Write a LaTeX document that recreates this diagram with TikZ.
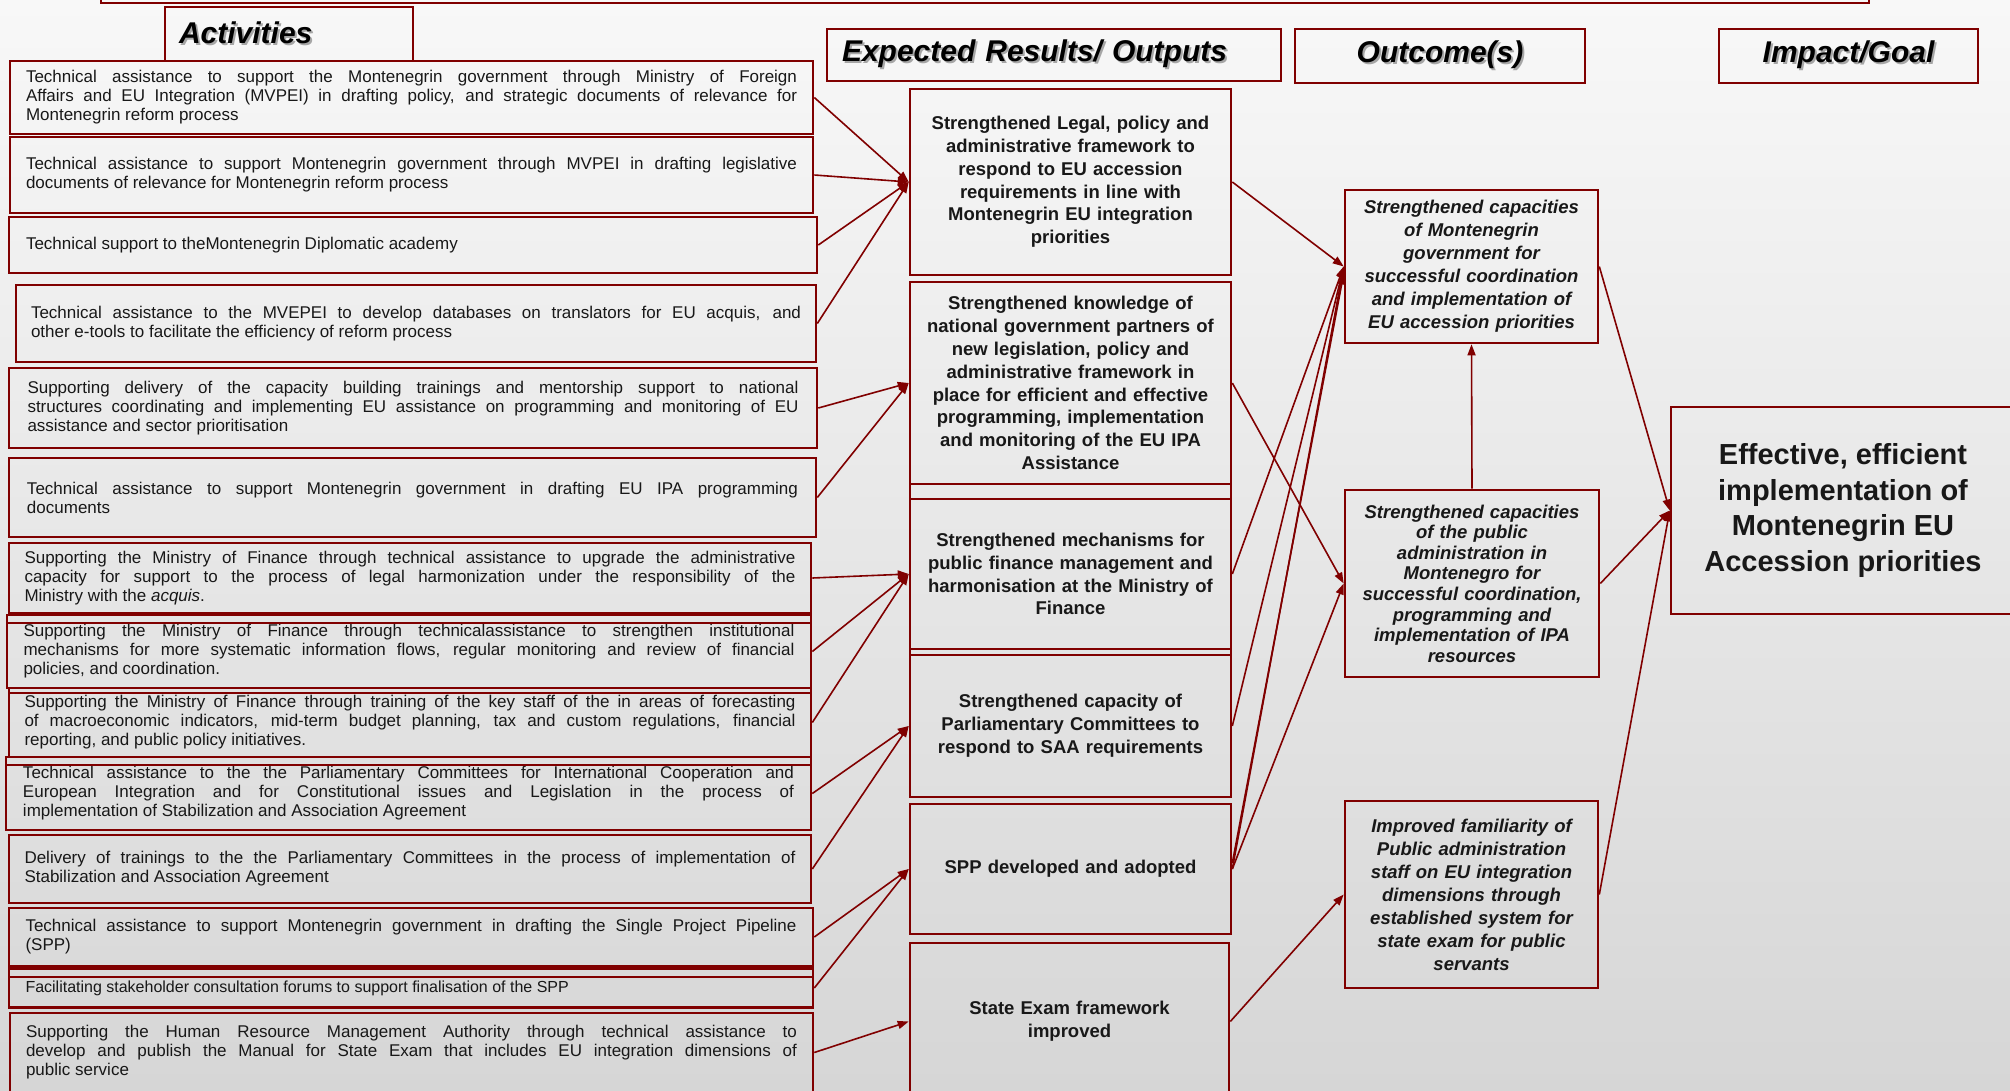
\documentclass[tikz,border=0pt]{standalone}
\usepackage{fontspec}
\setmainfont{Liberation Sans}
\usetikzlibrary{arrows.meta,calc}
\definecolor{dred}{RGB}{128,0,0}
\definecolor{bgtop}{RGB}{248,248,248}
\definecolor{bgbot}{RGB}{214,214,214}
\definecolor{txt}{RGB}{24,24,24}
\newcommand{\shtxt}[1]{\leavevmode\rlap{\kern2pt\raisebox{-2pt}{\textcolor{black!35}{#1}}}#1}
\newcommand{\loosejust}{\tolerance=10000\relax\hbadness=10000\relax}
\begin{document}
\begin{tikzpicture}[x=1pt,y=-1pt,
  boxline/.style={draw=dred,line width=2.6pt},
  actbox/.style={boxline,rectangle,inner xsep=2pt,inner ysep=1pt,align=justify,text=txt,
    font=\fontsize{17}{19}\selectfont\loosejust},
  outbox/.style={boxline,rectangle,inner sep=2pt,align=center,text=txt,text width=315pt,
    font=\fontsize{18.5}{22.8}\selectfont\bfseries},
  ocbox/.style={boxline,rectangle,inner sep=2pt,align=center,text=txt,text width=248pt,
    font=\fontsize{18.5}{23}\selectfont\bfseries\itshape},
  hdr/.style={boxline,rectangle,inner ysep=2pt,text=black,
    font=\fontsize{30}{34}\selectfont\bfseries\itshape},
  link/.style={draw=dred,line width=1.6pt,-{Triangle[length=11pt,width=8pt]}},
]
\useasboundingbox (0,0) rectangle (2010,1090);
\clip (0,0) rectangle (2010,1090);
\shade[top color=bgtop,bottom color=bgbot] (0,0) rectangle (2010,1090);

% top bar (cut off)
\draw[boxline] (101,-5) -- (101,3) -- (1869,3) -- (1869,-5);

% headers
\node[hdr,minimum width=248pt,minimum height=54pt,inner xsep=14pt,text width=220pt,align=left] (hact) at (289,34) {\shtxt{Activities}};
\node[hdr,minimum width=454pt,minimum height=52pt,inner xsep=15pt,text width=424pt,align=left] (hout) at (1054,55) {\shtxt{Expected Results/ Outputs}};
\node[hdr,minimum width=290pt,minimum height=54pt,inner xsep=2pt] (hoc) at (1440,56) {\shtxt{Outcome(s)}};
\node[hdr,minimum width=259pt,minimum height=54pt,inner xsep=2pt] (himp) at (1848.5,56) {\shtxt{Impact/Goal}};

% activities
\node[actbox,minimum width=803pt,minimum height=73pt,text width=771pt] (A1) at (411.5,97.5)
 {Technical assistance to support the Montenegrin government through Ministry of Foreign\linebreak Affairs and EU Integration (MVPEI) in drafting policy, and strategic documents of relevance for\linebreak Montenegrin reform process};
\node[actbox,minimum width=803pt,minimum height=76pt,text width=771pt] (A2) at (411.5,175)
 {Technical assistance to support Montenegrin government through MVPEI in drafting legislative\linebreak documents of relevance for Montenegrin reform process};
\node[actbox,minimum width=808pt,minimum height=56pt,text width=774pt] (A3) at (413,245)
 {Technical support to theMontenegrin Diplomatic academy};
\node[actbox,minimum width=800pt,minimum height=77pt,text width=770pt] (A4) at (416,323.5)
 {Technical assistance to the MVEPEI to develop databases on translators for EU acquis, and\linebreak other e-tools to facilitate the efficiency of reform process};
\node[actbox,minimum width=808pt,minimum height=80pt,text width=771pt] (A5) at (413,408)
 {Supporting delivery of the capacity building trainings and mentorship support to national\linebreak structures coordinating and implementing EU assistance on programming and monitoring of EU\linebreak assistance and sector prioritisation};
\node[actbox,minimum width=807pt,minimum height=79pt,text width=771pt] (A6) at (412.5,497.5)
 {Technical assistance to support Montenegrin government in drafting EU IPA programming\linebreak documents};
\node[actbox,minimum width=802pt,minimum height=70pt,text width=771pt] (A7) at (410,578)
 {Supporting the Ministry of Finance through technical assistance to upgrade the administrative\linebreak capacity for support to the process of legal harmonization under the responsibility of the\linebreak Ministry with the \textit{acquis}.};
\node[actbox,minimum width=804pt,minimum height=73pt,text width=771pt] (A8) at (409,651.5)
 {Supporting the Ministry of Finance through technicalassistance to strengthen institutional\linebreak mechanisms for more systematic information flows, regular monitoring and review of financial\linebreak policies, and coordination.};
\node[actbox,minimum width=802pt,minimum height=69pt,text width=771pt] (A9) at (410,722.5)
 {Supporting the Ministry of Finance through training of the key staff of the in areas of forecasting\linebreak of macroeconomic indicators, mid-term budget planning, tax and custom regulations, financial\linebreak reporting, and public policy initiatives.};
\node[actbox,minimum width=805pt,minimum height=73pt,text width=771pt] (A10) at (408.5,793.5)
 {Technical assistance to the the Parliamentary Committees for International Cooperation and\linebreak European Integration and for Constitutional issues and Legislation in the process of\linebreak implementation of Stabilization and Association Agreement};
\node[actbox,minimum width=802pt,minimum height=68pt,text width=771pt] (A11) at (410,869)
 {Delivery of trainings to the the Parliamentary Committees in the process of implementation of\linebreak Stabilization and Association Agreement};
\node[actbox,minimum width=804pt,minimum height=58pt,text width=771pt] (A12) at (411,937)
 {Technical assistance to support Montenegrin government in drafting the Single Project Pipeline\linebreak (SPP)};
\node[actbox,minimum width=804pt,minimum height=39pt,text width=771pt,font=\fontsize{16}{17}\selectfont] (A13) at (411,988)
 {Facilitating stakeholder consultation forums to support finalisation of the SPP};
\node[actbox,minimum width=803pt,minimum height=79pt,text width=771pt] (A14) at (411.5,1052.5)
 {Supporting the Human Resource Management Authority through technical assistance to\linebreak develop and publish the Manual for State Exam that includes EU integration dimensions of\linebreak public service};
% doubled edges between activity boxes
\draw[boxline] (7,623) -- (811,623);
\draw[boxline] (9,693) -- (811,693);
\draw[boxline] (6,765) -- (811,765);
\draw[boxline] (9,977) -- (813,977);

% outputs
\node[outbox,minimum width=321pt,minimum height=186pt] (O1) at (1070.5,182)
 {Strengthened Legal, policy and\\administrative framework to\\respond to EU accession\\requirements in line with\\Montenegrin EU integration\\priorities};
\node[outbox,minimum width=321pt,minimum height=202pt] (O2) at (1070.5,383)
 {Strengthened knowledge of\\national government partners of\\new legislation, policy and\\administrative framework in\\place for efficient and effective\\programming, implementation\\and monitoring of the EU IPA\\Assistance};
\draw[boxline] (910,484) rectangle (1231,499);
\node[outbox,minimum width=321pt,minimum height=150pt] (O3) at (1070.5,574)
 {Strengthened mechanisms for\\public finance management and\\harmonisation at the Ministry of\\Finance};
\draw[boxline] (910,649) rectangle (1231,655);
\node[outbox,minimum width=321pt,minimum height=142pt] (O4) at (1070.5,726)
 {Strengthened capacity of\\Parliamentary Committees to\\respond to SAA requirements};
\node[outbox,minimum width=321pt,minimum height=130pt] (O5) at (1070.5,869)
 {SPP developed and adopted};
\node[outbox,minimum width=319pt,minimum height=157pt] (O6) at (1069.5,1021.5)
 {State Exam framework\\improved};

% outcomes
\node[ocbox,minimum width=253pt,minimum height=153pt] (C1) at (1471.5,266.5)
 {Strengthened capacities\\of Montenegrin\\government for\\successful coordination\\and implementation of\\EU accession priorities};
\node[ocbox,minimum width=254pt,minimum height=187pt,font=\fontsize{18.5}{20.6}\selectfont\bfseries\itshape] (C2) at (1472,583.5)
 {Strengthened capacities\\of the public\\administration in\\Montenegro for\\successful coordination,\\programming and\\implementation of IPA\\resources};
\node[ocbox,minimum width=253pt,minimum height=187pt] (C3) at (1471.5,894.5)
 {Improved familiarity of\\Public administration\\staff on EU integration\\dimensions through\\established system for\\state exam for public\\servants};

% impact
\node[boxline,rectangle,minimum width=344pt,minimum height=207pt,align=center,text=txt,
  font=\fontsize{29}{35.5}\selectfont\bfseries] (IMP) at (1843,510.5)
 {Effective, efficient\\implementation of\\Montenegrin EU\\Accession priorities};

% activity -> output links
\foreach \a/\o in {A1/O1,A2/O1,A3/O1,A4/O1,A5/O2,A6/O2,A7/O3,A8/O3,A9/O3,A10/O4,A11/O4,A12/O5,A13/O5,A14/O6}
  \draw[link] (\a.east) -- (\o.west);

% output -> outcome links
\draw[link] (O1.east) -- (C1.west);
\draw[link] (O2.east) -- (C2.west);
\draw[link] (O3.east) -- (C1.west);
\draw[link] (O4.east) -- (C1.west);
\draw[link] (O5.east) -- (C1.west);
\draw[link] ($(O5.east)+(0,-6)$) -- ($(C1.west)+(0,7)$);
\draw[link] (O5.east) -- (C2.west);
\draw[link] (O6.east) -- (C3.west);

% outcome -> impact links
\draw[link] (C2.north) -- (C1.south);
\draw[link] (C1.east) -- (IMP.west);
\draw[link] (C2.east) -- (IMP.west);
\draw[link] (C3.east) -- (IMP.west);
\end{tikzpicture}
\end{document}
